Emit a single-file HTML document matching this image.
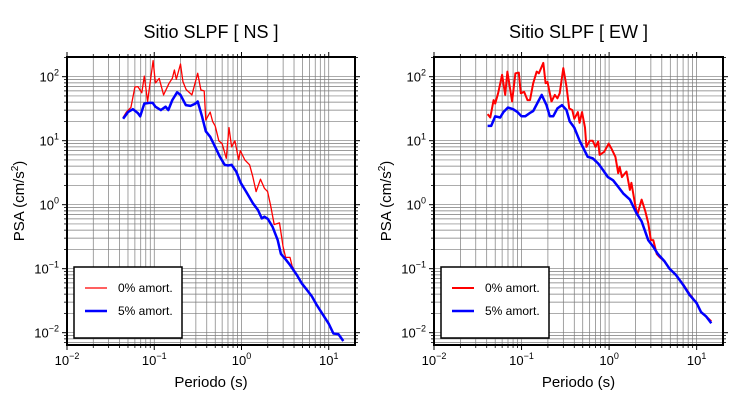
<!DOCTYPE html>
<html><head><meta charset="utf-8"><style>
body{margin:0;background:#fff;}
svg{display:block;font-family:"Liberation Sans",Arial,sans-serif;}
</style></head><body>
<svg id="chart" width="730" height="400"></svg>
<script>
// ---- data ----
const nsRedT = [0.044,0.048,0.054,0.060,0.065,0.072,0.077,0.084,0.097,0.103,0.114,0.128,0.148,0.161,0.170,0.179,0.200,0.213,0.232,0.270,0.315,0.343,0.374,0.390,0.438,0.466,0.50,0.55,0.60,0.67,0.72,0.77,0.84,0.93,0.97,1.09,1.24,1.35,1.47,1.65,1.83,1.99,2.17,2.37,2.73,3.0,3.2,3.6,3.8,4.3,4.9,5.6,6.4,7.3,8.4,10,11.3,12.3,13,14.7];
const nsRedV = [23,28,33,69,70,56,102,41,178,80,94,52,79,94,127,91,158,84,63,52,113,62,60,21,28,20,17,10,9,5.3,16,8,10,5,7,5,4.2,2.7,1.6,2.5,1.8,1.6,0.94,0.49,0.52,0.22,0.15,0.15,0.11,0.08,0.059,0.047,0.037,0.027,0.02,0.0138,0.0097,0.0095,0.0095,0.0074];
const nsBlueT = [0.044,0.05,0.057,0.065,0.069,0.077,0.088,0.096,0.103,0.119,0.135,0.145,0.161,0.183,0.2,0.23,0.26,0.296,0.315,0.353,0.39,0.438,0.5,0.566,0.64,0.7,0.77,0.87,0.98,1.13,1.35,1.54,1.71,1.83,2.0,2.27,2.6,2.83,3.2,3.6,4.3,4.9,5.6,6.4,7.3,8.4,10,11.3,12.9,14.7];
const nsBlueV = [22,28,31,27,24,38,39,39,34,30,34,30,43,57,52,36,35,38,41,24,14,11.5,8,5.6,4.2,4.1,4.2,3.3,2.2,1.6,1.05,0.83,0.61,0.65,0.6,0.45,0.28,0.17,0.14,0.114,0.08,0.059,0.047,0.037,0.027,0.02,0.0138,0.0097,0.0095,0.0074];
const ewRedT = [0.041,0.044,0.048,0.05,0.054,0.06,0.065,0.069,0.078,0.085,0.093,0.098,0.107,0.117,0.125,0.136,0.149,0.158,0.177,0.188,0.198,0.22,0.24,0.257,0.273,0.30,0.326,0.35,0.38,0.40,0.44,0.46,0.49,0.53,0.55,0.60,0.65,0.70,0.75,0.78,0.88,0.99,1.06,1.18,1.27,1.32,1.40,1.58,1.73,1.80,1.97,2.1,2.35,2.6,2.8,3.0,3.2,3.5,3.8,4.3,4.9,5.8,7,8.3,10,11.2,12.8,14.7];
const ewRedV = [26,23,43,38,55,107,52,120,41,113,116,55,58,43,43,79,120,113,164,79,83,41,52,46,55,136,70,32,30,22,28,19,28,16,8,10,10,8,9.7,6,6.7,9,7.6,5.6,3.1,3.9,2.7,3.3,1.7,2.2,1.05,0.69,1.2,0.78,0.52,0.28,0.28,0.17,0.15,0.13,0.1,0.08,0.057,0.04,0.029,0.021,0.018,0.015];
const ewBlueT = [0.041,0.045,0.05,0.057,0.062,0.07,0.08,0.09,0.1,0.11,0.124,0.136,0.155,0.17,0.193,0.21,0.23,0.257,0.29,0.326,0.355,0.4,0.46,0.52,0.57,0.65,0.75,0.85,0.97,1.11,1.27,1.45,1.73,2.05,2.35,2.8,3.2,3.6,4.3,4.9,5.8,7,8.3,10,11.2,12.8,14.7];
const ewBlueV = [17,17,24,23,28,33,31,28,24,24,27,29,41,52,36,24,24,32,36,30,20,16,10,7.2,5.6,5.3,4.4,3.5,2.7,2.4,1.9,1.5,1.2,0.74,0.55,0.28,0.22,0.17,0.13,0.1,0.08,0.056,0.039,0.029,0.021,0.018,0.014];
const xTickExp = [-2,-1,0,1];
const yTickExp = [-2,-1,0,1,2];
const titles = ["Sitio SLPF [ NS ]","Sitio SLPF [ EW ]"];
const legendLabels = ["0% amort.","5% amort."];

// ---- drawing ----
const NS="http://www.w3.org/2000/svg";
const svg=document.getElementById('chart');
function mk(tag,attrs,parent){const e=document.createElementNS(NS,tag);for(const k in attrs)e.setAttribute(k,attrs[k]);(parent||svg).appendChild(e);return e;}

function panel(x0,x1,key,rT,rV,bT,bV,redW,title){
  const y0=57,y1=345;
  const dec=(x1-x0)/ (Math.log10(20)+2);
  const X=t=>x0+(Math.log10(t)+2)*dec;
  const ydec=64, yTop=Math.log10(203);
  const Y=v=>y0+(yTop-Math.log10(v))*ydec;
  const g=mk('g',{});
  
  
  // grid + minor ticks
  const grid=mk('g',{stroke:'#7a7a7a','stroke-width':'0.7'},g);
  
  
  const mt=mk('g',{stroke:'#000','stroke-width':'0.8'},g);
  
  
  for(let e=-2;e<=1;e++)for(let m=1;m<=9;m++){const t=m*Math.pow(10,e);const x=X(t);if(x>x0&&x<x1){mk('line',{x1:x,x2:x,y1:y0,y2:y1},grid);
    if(m>1){mk('line',{x1:x,x2:x,y1:y1,y2:y1+3},mt);mk('line',{x1:x,x2:x,y1:y0-3,y2:y0},mt);}}}
  for(let e=-3;e<=2;e++)for(let m=1;m<=9;m++){const v=m*Math.pow(10,e);const y=Y(v);if(y>y0&&y<y1){mk('line',{x1:x0,x2:x1,y1:y,y2:y},grid);
    if(m>1){mk('line',{x1:x0-3,x2:x0,y1:y,y2:y},mt);mk('line',{x1:x1,x2:x1+3,y1:y,y2:y},mt);}}}
  // series
  const pts=(T,V)=>T.map((t,i)=>X(t).toFixed(1)+','+Y(V[i]).toFixed(1)).join(' ');
  const r=mk('polyline',{points:pts(rT,rV),fill:'none',stroke:'#ff0000','stroke-width':redW,'stroke-linejoin':'round'},g);
  
  
  const b=mk('polyline',{points:pts(bT,bV),fill:'none',stroke:'#0000ff','stroke-width':'2.5','stroke-linejoin':'round'},g);
  
  
  // frame
  const fr=mk('rect',{x:x0,y:y0,width:x1-x0,height:y1-y0,fill:'none',stroke:'#000','stroke-width':'2'},g);
  
  
  // ticks + labels
  xTickExp.forEach(e=>{const x=X(Math.pow(10,e));
    mk('line',{x1:x,x2:x,y1:y1,y2:y1+5,stroke:'#000','stroke-width':'1'},g);
    mk('line',{x1:x,x2:x,y1:y0,y2:y0-5,stroke:'#000','stroke-width':'1'},g);
    const t=mk('text',{x:x,y:y1+20,'text-anchor':'middle','font-size':'13'},g);
    
    
    t.appendChild(document.createTextNode('10'));
    const s=mk('tspan',{'font-size':'9',dy:'-6'},t);s.textContent=String(e).replace('-','\u2212');});
  yTickExp.forEach(e=>{const y=Y(Math.pow(10,e));
    mk('line',{x1:x0-5,x2:x0,y1:y,y2:y,stroke:'#000','stroke-width':'1'},g);
    mk('line',{x1:x1,x2:x1+5,y1:y,y2:y,stroke:'#000','stroke-width':'1'},g);
    const t=mk('text',{x:x0-8,y:y+5,'text-anchor':'end','font-size':'13'},g);
    
    
    t.appendChild(document.createTextNode('10'));
    const s=mk('tspan',{'font-size':'9',dy:'-6'},t);s.textContent=String(e).replace('-','\u2212');});
  // titles
  const tt=mk('text',{x:(x0+x1)/2,y:38,'text-anchor':'middle','font-size':'18'},g);
  
  
  tt.textContent=title;
  const xl=mk('text',{x:(x0+x1)/2,y:387,'text-anchor':'middle','font-size':'15'},g);
  
  
  xl.textContent='Periodo (s)';
  const yl=mk('text',{x:0,y:0,'text-anchor':'middle','font-size':'15',transform:`translate(${x0-43},${(y0+y1)/2}) rotate(-90)`},g);
  
  
  yl.appendChild(document.createTextNode('PSA (cm/s'));
  const sp=mk('tspan',{'font-size':'10',dy:'-6'},yl);sp.textContent='2';
  const cl=mk('tspan',{dy:'6'},yl);cl.textContent=')';
  // legend
  const lg=mk('g',{},g);
  
  
  mk('rect',{x:x0+7,y:267,width:108,height:71,fill:'#fff',stroke:'#000','stroke-width':'1.5'},lg);
  [['#ff0000',redW,288],['#0000ff','2.5',311]].forEach((c,i)=>{
    const le=mk('g',{},lg);
    
    
    mk('line',{x1:x0+18,x2:x0+40,y1:c[2],y2:c[2],stroke:c[0],'stroke-width':c[1]},le);
    const t=mk('text',{x:x0+51,y:c[2]+4,'font-size':'12'},le);t.textContent=legendLabels[i];});
}
panel(67,355,'ns',nsRedT,nsRedV,nsBlueT,nsBlueV,'1.3',titles[0]);
panel(434,723,'ew',ewRedT,ewRedV,ewBlueT,ewBlueV,'2',titles[1]);
</script>
</body></html>
